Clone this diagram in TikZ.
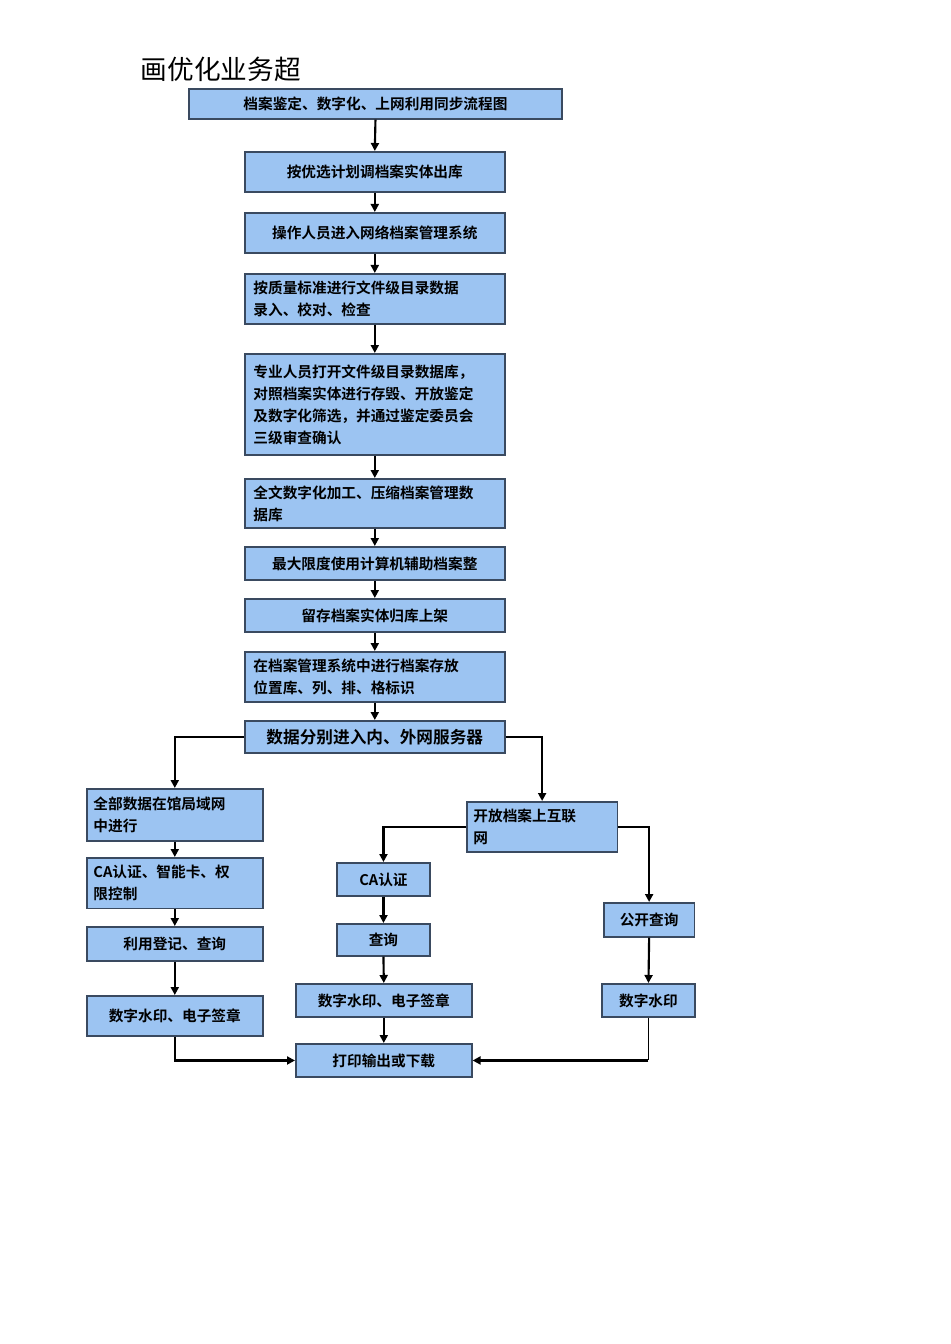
\documentclass[tikz,border=0pt]{standalone}
\usepackage{fontspec}
\newfontfamily\cjk{Noto Sans CJK SC}[BoldFont={* Bold}]
\newfontfamily\cjkserif{Noto Sans CJK SC}[BoldFont={* Light}]
\usetikzlibrary{arrows.meta}
\definecolor{boxfill}{HTML}{9CC4F2}
\definecolor{boxline}{HTML}{3A4A60}
\begin{document}
\begin{tikzpicture}[x=0.75pt,y=-0.75pt,
  bx/.style={draw=boxline,line width=1.2pt,fill=boxfill,font=\cjk\bfseries\fontsize{11}{16.5}\selectfont},
  arr/.style={-{Triangle[length=6pt,width=6pt]},line width=1.6pt,black}]
\useasboundingbox (0,0) rectangle (950,1344);
\node[anchor=base west,font=\cjk\fontsize{20}{24}\selectfont] (hd) at (136,80) {画优化业务超};
\newcommand\bxat[6]{\node[bx,minimum width=#3*0.75pt-1.2pt,minimum height=#4*0.75pt-1.2pt,inner sep=0pt,anchor=north west,#6] (#1) at (#2) {#5};}
\node[bx,anchor=north west,minimum width=280pt,minimum height=22.5pt,inner sep=0pt] (t) at (188,88) {档案鉴定、数字化、上网利用同步流程图};
\node[bx,anchor=north west,minimum width=195pt,minimum height=30pt,inner sep=0pt] (b1) at (244,151) {按优选计划调档案实体出库};
\node[bx,anchor=north west,minimum width=195pt,minimum height=30pt,inner sep=0pt] (b2) at (244,212) {操作人员进入网络档案管理系统};
\node[bx,anchor=north west,minimum width=195pt,minimum height=37.5pt,inner sep=0pt,align=left,text width=182pt] (b3) at (244,273) {按质量标准进行文件级目录数据\\录入、校对、检查};
\node[bx,anchor=north west,minimum width=195pt,minimum height=76pt,inner sep=0pt,align=left,text width=182pt] (b4) at (244,353) {专业人员打开文件级目录数据库，\\对照档案实体进行存毁、开放鉴定\\及数字化筛选，并通过鉴定委员会\\三级审查确认};
\node[bx,anchor=north west,minimum width=195pt,minimum height=37pt,inner sep=0pt,align=left,text width=182pt] (b5) at (244,478) {全文数字化加工、压缩档案管理数\\据库};
\node[bx,anchor=north west,minimum width=195pt,minimum height=25pt,inner sep=0pt] (b6) at (244,546) {最大限度使用计算机辅助档案整};
\node[bx,anchor=north west,minimum width=195pt,minimum height=25pt,inner sep=0pt] (b7) at (244,598) {留存档案实体归库上架};
\node[bx,anchor=north west,minimum width=195pt,minimum height=37.5pt,inner sep=0pt,align=left,text width=182pt] (b8) at (244,651) {在档案管理系统中进行档案存放\\位置库、列、排、格标识};
\node[bx,anchor=north west,minimum width=195pt,minimum height=24pt,inner sep=0pt,font=\cjk\bfseries\fontsize{12.5}{15}\selectfont] (b9) at (244,720) {数据分别进入内、外网服务器};
\node[bx,anchor=north west,minimum width=132pt,minimum height=39pt,inner sep=0pt,align=left,text width=122pt] (l1) at (86,788) {全部数据在馆局域网\\中进行};
\node[bx,anchor=north west,minimum width=132pt,minimum height=38pt,inner sep=0pt,align=left,text width=122pt] (l2) at (86,857) {CA认证、智能卡、权\\限控制};
\node[bx,anchor=north west,minimum width=132pt,minimum height=25.5pt,inner sep=0pt] (l3) at (86,926) {利用登记、查询};
\node[bx,anchor=north west,minimum width=132pt,minimum height=30pt,inner sep=0pt] (l4) at (86,995) {数字水印、电子签章};
\node[bx,anchor=north west,minimum width=113pt,minimum height=37.5pt,inner sep=0pt,align=left,text width=103pt] (m0) at (466,801) {开放档案上互联\\网};
\node[bx,anchor=north west,minimum width=70pt,minimum height=25pt,inner sep=0pt] (m1) at (336,862) {CA认证};
\node[bx,anchor=north west,minimum width=70pt,minimum height=24pt,inner sep=0pt] (m2) at (336,923) {查询};
\node[bx,anchor=north west,minimum width=132pt,minimum height=25pt,inner sep=0pt] (m3) at (295,983) {数字水印、电子签章};
\node[bx,anchor=north west,minimum width=132pt,minimum height=25pt,inner sep=0pt] (m4) at (295,1043) {打印输出或下载};
\node[bx,anchor=north west,minimum width=68pt,minimum height=25.5pt,inner sep=0pt] (r1) at (603,902) {公开查询};
\node[bx,anchor=north west,minimum width=70pt,minimum height=25pt,inner sep=0pt] (r2) at (601,983) {数字水印};
\foreach \a/\b in {t/b1,b1/b2,b2/b3,b3/b4,b4/b5,b5/b6,b6/b7,b7/b8,b8/b9,l1/l2,l2/l3,l3/l4,m1/m2,m2/m3,m3/m4,r1/r2}
  \draw[arr] (\a.south) -- (\b.north);
\draw[arr] (b9.west) -| (l1.north);
\draw[arr] (b9.east) -| (m0.north);
\draw[arr] (m0.west) -| (m1.north);
\draw[arr] (m0.east) -| (r1.north);
\draw[arr] (l4.south) |- (m4.west);
\draw[line width=0.6pt] (r2.south) -- (r2.south|-m4.east) coordinate (rc);
\draw[arr] (rc) -- (m4.east);
\end{tikzpicture}
\end{document}
